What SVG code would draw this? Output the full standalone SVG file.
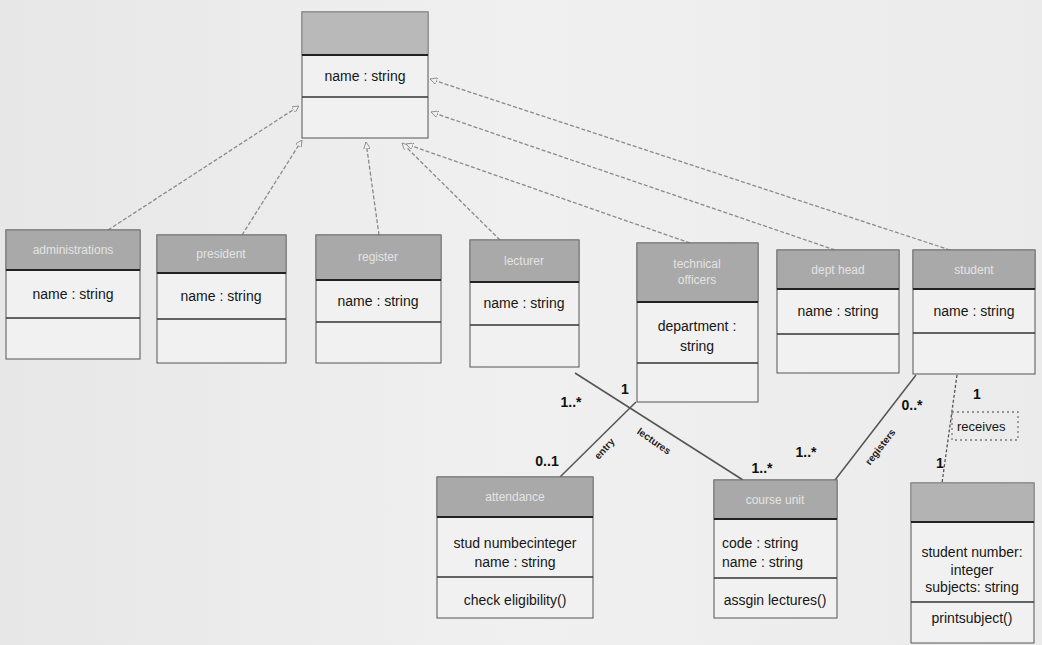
<svg xmlns="http://www.w3.org/2000/svg" width="1042" height="645" viewBox="0 0 1042 645">
<defs>
<linearGradient id="bg" x1="0" y1="0" x2="1" y2="0">
<stop offset="0" stop-color="#e7e7e7"/>
<stop offset="0.5" stop-color="#f0f0f0"/>
<stop offset="1" stop-color="#ebebeb"/>
</linearGradient>
<marker id="gen" viewBox="0 0 10 10" refX="10" refY="5" markerWidth="7" markerHeight="7" orient="auto" markerUnits="userSpaceOnUse">
<path d="M0,0 L10,5 L0,10 Z" fill="#f0f0f0" stroke="#888" stroke-width="1.2"/>
</marker>
<style>
.body{fill:#f1f1f1;stroke:#555;stroke-width:1}
.hdr{fill:#a9a9a9;stroke:#777;stroke-width:1}
.sep{stroke:#222;stroke-width:2}
.sep2{stroke:#333;stroke-width:1.5}
.t{font-family:"Liberation Sans",Arial,sans-serif;font-size:14px;fill:#161616;text-anchor:middle}
.tl{font-family:"Liberation Sans",Arial,sans-serif;font-size:14px;fill:#161616}
.h{font-family:"Liberation Sans",Arial,sans-serif;font-size:12px;fill:#e4e4e4;text-anchor:middle}
.m{font-family:"Liberation Sans",Arial,sans-serif;font-size:14px;fill:#111;font-weight:bold;text-anchor:middle}
.r{font-family:"Liberation Sans",Arial,sans-serif;font-size:10px;fill:#222;font-weight:bold;text-anchor:middle}
.g{fill:none;stroke:#8a8a8a;stroke-width:1.3;stroke-dasharray:4 2}
.a{fill:none;stroke:#555;stroke-width:1.5}
</style>
</defs>
<rect width="1042" height="645" fill="url(#bg)"/>

<g id="connectors">
<line class="g" x1="108" y1="230" x2="299" y2="106" marker-end="url(#gen)"/>
<line class="g" x1="242" y1="235" x2="302" y2="140" marker-end="url(#gen)"/>
<line class="g" x1="379" y1="235" x2="366" y2="142" marker-end="url(#gen)"/>
<line class="g" x1="500" y1="240" x2="402" y2="143" marker-end="url(#gen)"/>
<line class="g" x1="690" y1="243" x2="406" y2="144" marker-end="url(#gen)"/>
<line class="g" x1="835" y1="250" x2="431" y2="112" marker-end="url(#gen)"/>
<line class="g" x1="950" y1="250" x2="430" y2="79" marker-end="url(#gen)"/>
<line class="a" x1="575" y1="373" x2="743" y2="480"/>
<line class="a" x1="560" y1="477" x2="636" y2="402"/>
<line class="a" x1="916" y1="375" x2="835" y2="480"/>
<line x1="957" y1="375" x2="942" y2="483" stroke="#555" stroke-width="1.3" stroke-dasharray="3 2"/>
<rect x="952" y="412" width="66" height="28" fill="none" stroke="#777" stroke-width="1.3" stroke-dasharray="2 3"/>
<text class="m" x="571" y="407">1..*</text>
<text class="m" x="625" y="394">1</text>
<text class="m" x="547" y="466">0..1</text>
<text class="m" x="762" y="473">1..*</text>
<text class="r" transform="translate(607,451) rotate(-48)">entry</text>
<text class="r" transform="translate(652,444) rotate(35)">lectures</text>
<text class="m" x="912" y="410">0..*</text>
<text class="m" x="806" y="457">1..*</text>
<text class="r" transform="translate(883,449) rotate(-52)">registers</text>
<text class="m" x="977" y="399">1</text>
<text class="m" x="940" y="468">1</text>
<text class="tl" x="957" y="431" style="font-size:13px">receives</text>
</g>

<g id="person">
<rect class="body" x="302" y="12" width="126" height="126"/>
<rect x="302" y="12" width="126" height="43" fill="#b9b9b9" stroke="#888"/>
<line class="sep" x1="302" y1="55" x2="428" y2="55"/>
<line class="sep2" x1="302" y1="97" x2="428" y2="97"/>
<text class="t" x="365" y="81">name : string</text>
</g>

<g id="administrations">
<rect class="body" x="6" y="230" width="134" height="129"/>
<rect class="hdr" x="6" y="230" width="134" height="40"/>
<line class="sep" x1="6" y1="270" x2="140" y2="270"/>
<line class="sep2" x1="6" y1="318" x2="140" y2="318"/>
<text class="h" x="73" y="254">administrations</text>
<text class="t" x="73" y="299">name : string</text>
</g>

<g id="president">
<rect class="body" x="157" y="235" width="129" height="128"/>
<rect class="hdr" x="157" y="235" width="129" height="38"/>
<line class="sep" x1="157" y1="273" x2="286" y2="273"/>
<line class="sep2" x1="157" y1="319" x2="286" y2="319"/>
<text class="h" x="221" y="258">president</text>
<text class="t" x="221" y="301">name : string</text>
</g>

<g id="register">
<rect class="body" x="316" y="235" width="125" height="128"/>
<rect class="hdr" x="316" y="235" width="125" height="45"/>
<line class="sep" x1="316" y1="280" x2="441" y2="280"/>
<line class="sep2" x1="316" y1="322" x2="441" y2="322"/>
<text class="h" x="378" y="261">register</text>
<text class="t" x="378" y="306">name : string</text>
</g>

<g id="lecturer">
<rect class="body" x="470" y="240" width="109" height="127"/>
<rect class="hdr" x="470" y="240" width="109" height="42"/>
<line class="sep" x1="470" y1="282" x2="579" y2="282"/>
<line class="sep2" x1="470" y1="325" x2="579" y2="325"/>
<text class="h" x="524" y="265">lecturer</text>
<text class="t" x="524" y="308">name : string</text>
</g>

<g id="technical-officers">
<rect class="body" x="637" y="243" width="121" height="159"/>
<rect class="hdr" x="637" y="243" width="121" height="59"/>
<line class="sep" x1="637" y1="302" x2="758" y2="302"/>
<line class="sep2" x1="637" y1="363" x2="758" y2="363"/>
<text class="h" x="697" y="268">technical</text>
<text class="h" x="697" y="284">officers</text>
<text class="t" x="697" y="331">department :</text>
<text class="t" x="697" y="351">string</text>
</g>

<g id="dept-head">
<rect class="body" x="777" y="250" width="122" height="123"/>
<rect class="hdr" x="777" y="250" width="122" height="39"/>
<line class="sep" x1="777" y1="289" x2="899" y2="289"/>
<line class="sep2" x1="777" y1="334" x2="899" y2="334"/>
<text class="h" x="838" y="274">dept head</text>
<text class="t" x="838" y="316">name : string</text>
</g>

<g id="student">
<rect class="body" x="913" y="250" width="122" height="124"/>
<rect class="hdr" x="913" y="250" width="122" height="39"/>
<line class="sep" x1="913" y1="289" x2="1035" y2="289"/>
<line class="sep2" x1="913" y1="333" x2="1035" y2="333"/>
<text class="h" x="974" y="274">student</text>
<text class="t" x="974" y="316">name : string</text>
</g>

<g id="attendance">
<rect class="body" x="437" y="477" width="156" height="141"/>
<rect class="hdr" x="437" y="477" width="156" height="40"/>
<line class="sep" x1="437" y1="517" x2="593" y2="517"/>
<line class="sep2" x1="437" y1="577" x2="593" y2="577"/>
<text class="h" x="515" y="501">attendance</text>
<text class="t" x="515" y="548">stud numbecinteger</text>
<text class="t" x="515" y="567">name : string</text>
<text class="t" x="515" y="605">check eligibility()</text>
</g>

<g id="course-unit">
<rect class="body" x="714" y="480" width="123" height="138"/>
<rect class="hdr" x="714" y="480" width="123" height="39"/>
<line class="sep" x1="714" y1="519" x2="837" y2="519"/>
<line class="sep2" x1="714" y1="578" x2="837" y2="578"/>
<text class="h" x="775" y="504">course unit</text>
<text class="tl" x="722" y="548">code : string</text>
<text class="tl" x="722" y="567">name : string</text>
<text class="t" x="775" y="605">assgin lectures()</text>
</g>

<g id="result">
<rect class="body" x="911" y="483" width="123" height="160"/>
<rect x="911" y="483" width="123" height="39" fill="#b3b3b3" stroke="#888"/>
<line class="sep" x1="911" y1="522" x2="1034" y2="522"/>
<line class="sep2" x1="911" y1="602" x2="1034" y2="602"/>
<text class="t" x="972" y="557">student number:</text>
<text class="t" x="972" y="575">integer</text>
<text class="t" x="972" y="592">subjects: string</text>
<text class="t" x="972" y="623">printsubject()</text>
</g>
</svg>
